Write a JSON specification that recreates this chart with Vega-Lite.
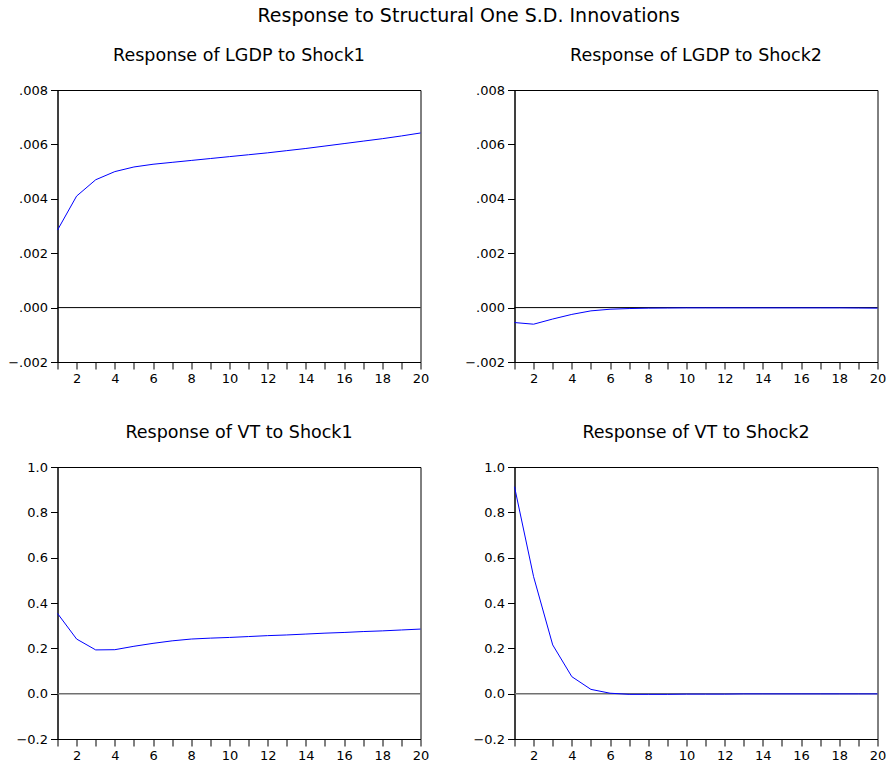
{
  "$schema": "https://vega.github.io/schema/vega-lite/v6.json",
  "background": "white",
  "padding": {"left": 6.5, "top": 7, "right": 2, "bottom": 2},
  "title": {"text": "Response to Structural One S.D. Innovations", "fontSize": 19, "font": "DejaVu Sans", "fontWeight": "normal", "color": "black", "anchor": "middle", "offset": 20, "dx": 22},
  "datasets": {
    "irf": [
      {"panel": "a", "t": 1, "v": 0.00285}, {"panel": "a", "t": 2, "v": 0.0041}, {"panel": "a", "t": 3, "v": 0.0047}, {"panel": "a", "t": 4, "v": 0.0050}, {"panel": "a", "t": 5, "v": 0.00517}, {"panel": "a", "t": 6, "v": 0.00527}, {"panel": "a", "t": 7, "v": 0.00534}, {"panel": "a", "t": 8, "v": 0.00541}, {"panel": "a", "t": 9, "v": 0.00548}, {"panel": "a", "t": 10, "v": 0.00555}, {"panel": "a", "t": 11, "v": 0.00562}, {"panel": "a", "t": 12, "v": 0.00569}, {"panel": "a", "t": 13, "v": 0.00577}, {"panel": "a", "t": 14, "v": 0.00585}, {"panel": "a", "t": 15, "v": 0.00594}, {"panel": "a", "t": 16, "v": 0.00603}, {"panel": "a", "t": 17, "v": 0.00612}, {"panel": "a", "t": 18, "v": 0.00621}, {"panel": "a", "t": 19, "v": 0.00631}, {"panel": "a", "t": 20, "v": 0.00642},
      {"panel": "b", "t": 1, "v": -0.00055}, {"panel": "b", "t": 2, "v": -0.00061}, {"panel": "b", "t": 3, "v": -0.00042}, {"panel": "b", "t": 4, "v": -0.00025}, {"panel": "b", "t": 5, "v": -0.00012}, {"panel": "b", "t": 6, "v": -0.00006}, {"panel": "b", "t": 7, "v": -0.000035}, {"panel": "b", "t": 8, "v": -0.00002}, {"panel": "b", "t": 9, "v": -0.000015}, {"panel": "b", "t": 10, "v": -0.00001}, {"panel": "b", "t": 11, "v": -0.00001}, {"panel": "b", "t": 12, "v": -0.00001}, {"panel": "b", "t": 13, "v": -0.00001}, {"panel": "b", "t": 14, "v": -0.00001}, {"panel": "b", "t": 15, "v": -0.00001}, {"panel": "b", "t": 16, "v": -0.00001}, {"panel": "b", "t": 17, "v": -0.00001}, {"panel": "b", "t": 18, "v": -0.00001}, {"panel": "b", "t": 19, "v": -0.000015}, {"panel": "b", "t": 20, "v": -0.00002},
      {"panel": "c", "t": 1, "v": 0.354}, {"panel": "c", "t": 2, "v": 0.241}, {"panel": "c", "t": 3, "v": 0.193}, {"panel": "c", "t": 4, "v": 0.194}, {"panel": "c", "t": 5, "v": 0.209}, {"panel": "c", "t": 6, "v": 0.222}, {"panel": "c", "t": 7, "v": 0.233}, {"panel": "c", "t": 8, "v": 0.241}, {"panel": "c", "t": 9, "v": 0.245}, {"panel": "c", "t": 10, "v": 0.248}, {"panel": "c", "t": 11, "v": 0.252}, {"panel": "c", "t": 12, "v": 0.256}, {"panel": "c", "t": 13, "v": 0.259}, {"panel": "c", "t": 14, "v": 0.263}, {"panel": "c", "t": 15, "v": 0.267}, {"panel": "c", "t": 16, "v": 0.270}, {"panel": "c", "t": 17, "v": 0.274}, {"panel": "c", "t": 18, "v": 0.277}, {"panel": "c", "t": 19, "v": 0.281}, {"panel": "c", "t": 20, "v": 0.285},
      {"panel": "d", "t": 1, "v": 0.913}, {"panel": "d", "t": 2, "v": 0.516}, {"panel": "d", "t": 3, "v": 0.215}, {"panel": "d", "t": 4, "v": 0.075}, {"panel": "d", "t": 5, "v": 0.019}, {"panel": "d", "t": 6, "v": 0.002}, {"panel": "d", "t": 7, "v": -0.003}, {"panel": "d", "t": 8, "v": -0.003}, {"panel": "d", "t": 9, "v": -0.003}, {"panel": "d", "t": 10, "v": -0.002}, {"panel": "d", "t": 11, "v": -0.002}, {"panel": "d", "t": 12, "v": -0.002}, {"panel": "d", "t": 13, "v": -0.001}, {"panel": "d", "t": 14, "v": -0.001}, {"panel": "d", "t": 15, "v": -0.001}, {"panel": "d", "t": 16, "v": -0.001}, {"panel": "d", "t": 17, "v": -0.001}, {"panel": "d", "t": 18, "v": -0.001}, {"panel": "d", "t": 19, "v": -0.001}, {"panel": "d", "t": 20, "v": -0.001}
    ],
    "zero": [{"z": 0}]
  },
  "columns": 2,
  "spacing": {"row": 37, "column": 34},
  "concat": [
    {
      "width": 363, "height": 272,
      "title": {"text": "Response of LGDP to Shock1"},
      "layer": [
        {"data": {"name": "zero"}, "mark": {"type": "rule", "color": "black", "strokeWidth": 1}, "encoding": {"y": {"field": "z", "type": "quantitative"}}},
        {"data": {"name": "irf"}, "transform": [{"filter": "datum.panel == 'a'"}], "mark": {"type": "line", "color": "#0000ff", "strokeWidth": 1},
         "encoding": {
           "x": {"field": "t", "type": "quantitative", "scale": {"domain": [1, 20], "nice": false, "zero": false}, "axis": {"title": null, "values": [1,2,3,4,5,6,7,8,9,10,11,12,13,14,15,16,17,18,19,20], "labelExpr": "datum.value % 2 == 0 ? datum.label : ''"}},
           "y": {"field": "v", "type": "quantitative", "scale": {"domain": [-0.002, 0.008], "nice": false, "zero": false}, "axis": {"title": null, "values": [-0.002, 0, 0.002, 0.004, 0.006, 0.008], "labelExpr": "replace(format(datum.value, '.3f'), '0.', '.')"}}
         }}
      ]
    },
    {
      "width": 363, "height": 272,
      "title": {"text": "Response of LGDP to Shock2"},
      "layer": [
        {"data": {"name": "zero"}, "mark": {"type": "rule", "color": "black", "strokeWidth": 1}, "encoding": {"y": {"field": "z", "type": "quantitative"}}},
        {"data": {"name": "irf"}, "transform": [{"filter": "datum.panel == 'b'"}], "mark": {"type": "line", "color": "#0000ff", "strokeWidth": 1},
         "encoding": {
           "x": {"field": "t", "type": "quantitative", "scale": {"domain": [1, 20], "nice": false, "zero": false}, "axis": {"title": null, "values": [1,2,3,4,5,6,7,8,9,10,11,12,13,14,15,16,17,18,19,20], "labelExpr": "datum.value % 2 == 0 ? datum.label : ''"}},
           "y": {"field": "v", "type": "quantitative", "scale": {"domain": [-0.002, 0.008], "nice": false, "zero": false}, "axis": {"title": null, "values": [-0.002, 0, 0.002, 0.004, 0.006, 0.008], "labelExpr": "replace(format(datum.value, '.3f'), '0.', '.')"}}
         }}
      ]
    },
    {
      "width": 363, "height": 272,
      "title": {"text": "Response of VT to Shock1"},
      "layer": [
        {"data": {"name": "zero"}, "mark": {"type": "rule", "color": "#707070", "strokeWidth": 1.5}, "encoding": {"y": {"field": "z", "type": "quantitative"}}},
        {"data": {"name": "irf"}, "transform": [{"filter": "datum.panel == 'c'"}], "mark": {"type": "line", "color": "#0000ff", "strokeWidth": 1},
         "encoding": {
           "x": {"field": "t", "type": "quantitative", "scale": {"domain": [1, 20], "nice": false, "zero": false}, "axis": {"title": null, "values": [1,2,3,4,5,6,7,8,9,10,11,12,13,14,15,16,17,18,19,20], "labelExpr": "datum.value % 2 == 0 ? datum.label : ''"}},
           "y": {"field": "v", "type": "quantitative", "scale": {"domain": [-0.2, 1.0], "nice": false, "zero": false}, "axis": {"title": null, "values": [-0.2, 0, 0.2, 0.4, 0.6, 0.8, 1.0], "format": ".1f"}}
         }}
      ]
    },
    {
      "width": 363, "height": 272,
      "title": {"text": "Response of VT to Shock2"},
      "layer": [
        {"data": {"name": "zero"}, "mark": {"type": "rule", "color": "#707070", "strokeWidth": 1.5}, "encoding": {"y": {"field": "z", "type": "quantitative"}}},
        {"data": {"name": "irf"}, "transform": [{"filter": "datum.panel == 'd'"}], "mark": {"type": "line", "color": "#0000ff", "strokeWidth": 1},
         "encoding": {
           "x": {"field": "t", "type": "quantitative", "scale": {"domain": [1, 20], "nice": false, "zero": false}, "axis": {"title": null, "values": [1,2,3,4,5,6,7,8,9,10,11,12,13,14,15,16,17,18,19,20], "labelExpr": "datum.value % 2 == 0 ? datum.label : ''"}},
           "y": {"field": "v", "type": "quantitative", "scale": {"domain": [-0.2, 1.0], "nice": false, "zero": false}, "axis": {"title": null, "values": [-0.2, 0, 0.2, 0.4, 0.6, 0.8, 1.0], "format": ".1f"}}
         }}
      ]
    }
  ],
  "config": {
    "font": "DejaVu Sans",
    "view": {"stroke": "black", "strokeWidth": 1},
    "axis": {"grid": false, "labelFont": "DejaVu Sans", "labelFontSize": 13, "labelColor": "black", "tickColor": "black", "domainColor": "black", "tickSize": 7, "labelPadding": 3, "labelFlush": false, "labelOverlap": false},
    "title": {"font": "DejaVu Sans", "fontSize": 17.5, "fontWeight": "normal", "color": "black", "offset": 20}
  }
}
